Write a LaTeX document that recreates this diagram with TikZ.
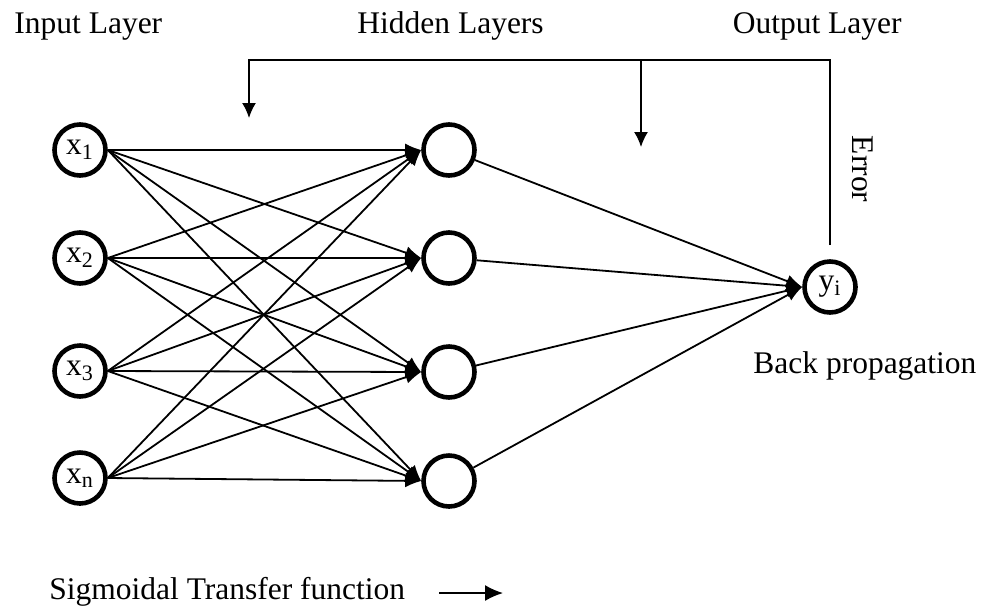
\documentclass[tikz,border=0pt]{standalone}
\usepackage{fontspec}
\setmainfont{Liberation Serif}
\usetikzlibrary{arrows.meta}
\tikzset{
  neuron/.style={circle, draw, line width=2.3pt, minimum size=25.5pt, inner sep=0pt},
  wire/.style={line width=0.9pt, -{Latex[length=8pt,width=6.5pt]}},
  back/.style={line width=0.8pt, -{Latex[length=7.5pt,width=7pt]}},
}
\begin{document}
\begin{tikzpicture}[x=0.5pt, y=-0.5pt, font=\fontsize{15.75}{19}\selectfont]
    \useasboundingbox (0,0) rectangle (983,606);
    % layer titles
    \node[anchor=base west, inner sep=0pt] (tin) at (14,33) {Input Layer};
    \node[anchor=base west, inner sep=0pt] (thid) at (357,33) {Hidden Layers};
    \node[anchor=base east, inner sep=0pt] (tout) at (902,33) {Output Layer};
    % input layer
    \node[neuron] (x1) at (80,150) {x\textsubscript{1}};
    \node[neuron] (x2) at (80,258) {x\textsubscript{2}};
    \node[neuron] (x3) at (80,371) {x\textsubscript{3}};
    \node[neuron] (x4) at (80,478) {x\textsubscript{n}};
    % hidden layer
    \node[neuron] (h1) at (449,150) {};
    \node[neuron] (h2) at (449,258) {};
    \node[neuron] (h3) at (449,372) {};
    \node[neuron] (h4) at (449,481) {};
    % output layer
    \node[neuron] (out) at (830,287) {y\textsubscript{i}};
    \foreach \i in {1,...,4}
        \foreach \j in {1,...,4}
            \draw[wire] (x\i.east) -- (h\j.west);
    \foreach \j in {1,...,4}
        \draw[wire] (h\j) -- (out.west);
    % error fed back
    \coordinate (errbot) at (830,245);
    \coordinate (tr) at (830,60);
    \coordinate (tl) at (249,60);
    \coordinate (tm) at (641,60);
    \coordinate (hl) at (249,118);
    \coordinate (hm) at (641,147);
    \draw[back] (errbot) -- (tr) -- (tl) -- (hl);
    \draw[back] (tm) -- (hm);
    \node[rotate=-90] (err) at (863,169) {Error};
    \node[anchor=base west, inner sep=0pt] (bp) at (753,373) {Back propagation};
    % transfer function
    \node[anchor=base west, inner sep=0pt] (sig) at (49,599) {Sigmoidal Transfer function};
    \coordinate (sa) at (439,593);
    \coordinate (sb) at (503,593);
    \draw[line width=0.8pt, -{Latex[length=9pt,width=8pt]}] (sa) -- (sb);
\end{tikzpicture}
\end{document}
